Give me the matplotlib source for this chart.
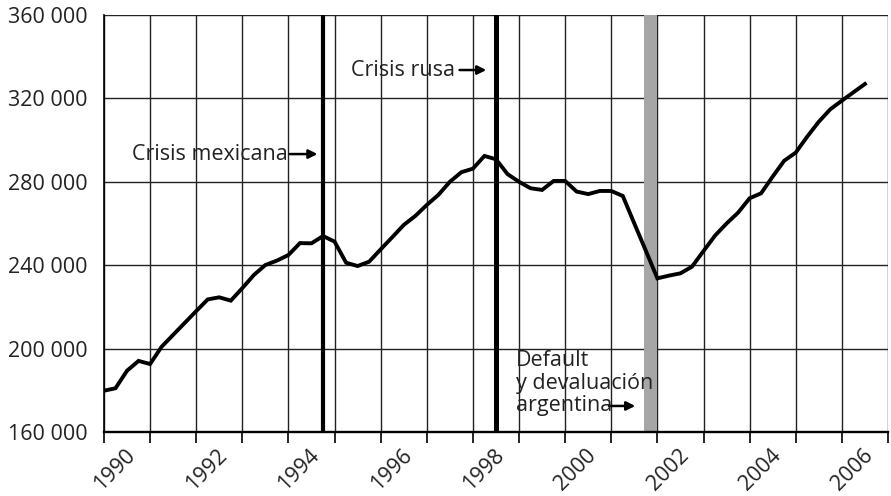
import numpy as np
import matplotlib
matplotlib.use('Agg')
import matplotlib.pyplot as plt

# quarterly series, 1990Q1 .. 2006Q3
start_year = 1990
values = [179800, 181000, 189400, 194100,
          192600, 200900, 206600, 212300,
          218000, 223600, 224600, 223000,
          229000, 235300, 240100, 242200,
          244900, 250600, 250500, 254000,
          251300, 241200, 239600, 241700,
          247600, 253400, 259300, 263600,
          268900, 273700, 280000, 284600,
          286300, 292400, 290800, 283700,
          280000, 276900, 276100, 280400,
          280400, 275300, 274100, 275600,
          275600, 273200, 260000, 246900,
          233700, 235000, 236100, 239300,
          246800, 254200, 260000, 265200,
          272100, 274500, 282500, 290100,
          294000, 301700, 308800, 314800,
          318900, 322900, 326900]

year_ticks = list(range(1990, 2008))
label_years = list(range(1990, 2007, 2))
y_ticks = [160000, 200000, 240000, 280000, 320000, 360000]

mexico = 1994.75
russia = 1998.5
argentina = (2001.72, 2002.0)
argentina_lines = ['Default', 'y devaluación', 'argentina']
argentina_y = [194500, 183500, 172500]

plt.rcParams['font.family'] = ['Open Sans', 'DejaVu Sans']
FS = 15.5
TXT = '#222'

t = start_year + np.arange(len(values)) / 4.0

fig = plt.figure(figsize=(8.91, 4.96), dpi=100)
ax = fig.add_axes([0.1167, 0.129, 0.8799, 0.8408])

ax.set_xlim(1990, 2007)
ax.set_ylim(160000, 360000)

# year ticks + grid on the minor axis, shifted labels on the major one
ax.set_xticks(year_ticks, minor=True)
ax.set_xticks([y + 0.23 for y in label_years])
ax.set_xticklabels([str(y) for y in label_years], rotation=45, ha='center', va='top',
                   fontsize=FS, color=TXT)
ax.set_yticks(y_ticks)
ax.set_yticklabels([f'{v:,}'.replace(',', ' ') for v in y_ticks], fontsize=FS, color=TXT)

ax.tick_params(axis='x', which='minor', length=8, width=1.2, direction='out')
ax.tick_params(axis='x', which='major', length=0, pad=9.5)
ax.tick_params(axis='y', length=0, pad=12)
ax.grid(True, axis='x', which='minor', color='#222', linewidth=1.0)
ax.grid(True, axis='y', which='major', color='#222', linewidth=1.0)
ax.set_axisbelow(True)

for s in ['top', 'right']:
    ax.spines[s].set_visible(False)
ax.spines['bottom'].set_linewidth(1.7)
ax.spines['left'].set_linewidth(1.2)

# crisis markers
ax.axvspan(argentina[0], argentina[1], color='#a6a6a6', lw=0, zorder=2)
ax.axvline(mexico, color='black', lw=3.0, zorder=3)
ax.axvline(russia, color='black', lw=3.6, zorder=3)

ax.plot(t, values, color='black', lw=2.8, solid_joinstyle='miter', zorder=4)

arrow = dict(arrowstyle='-|>', color='black', lw=1.8, mutation_scale=13, shrinkA=0, shrinkB=0)
ax.annotate('', xy=(1994.63, 293300), xytext=(1994.03, 293300), arrowprops=arrow)
ax.text(1993.98, 293300, 'Crisis mexicana', ha='right', va='center', fontsize=FS, color=TXT)

ax.annotate('', xy=(1998.29, 333600), xytext=(1997.71, 333600), arrowprops=arrow)
ax.text(1997.62, 333600, 'Crisis rusa', ha='right', va='center', fontsize=FS, color=TXT)

ax.annotate('', xy=(2001.52, 172500), xytext=(2000.95, 172500), arrowprops=arrow)
for line, yv in zip(argentina_lines, argentina_y):
    ax.text(1998.94, yv, line, ha='left', va='center', fontsize=FS, color=TXT)

fig.savefig('out.png', dpi=100)
